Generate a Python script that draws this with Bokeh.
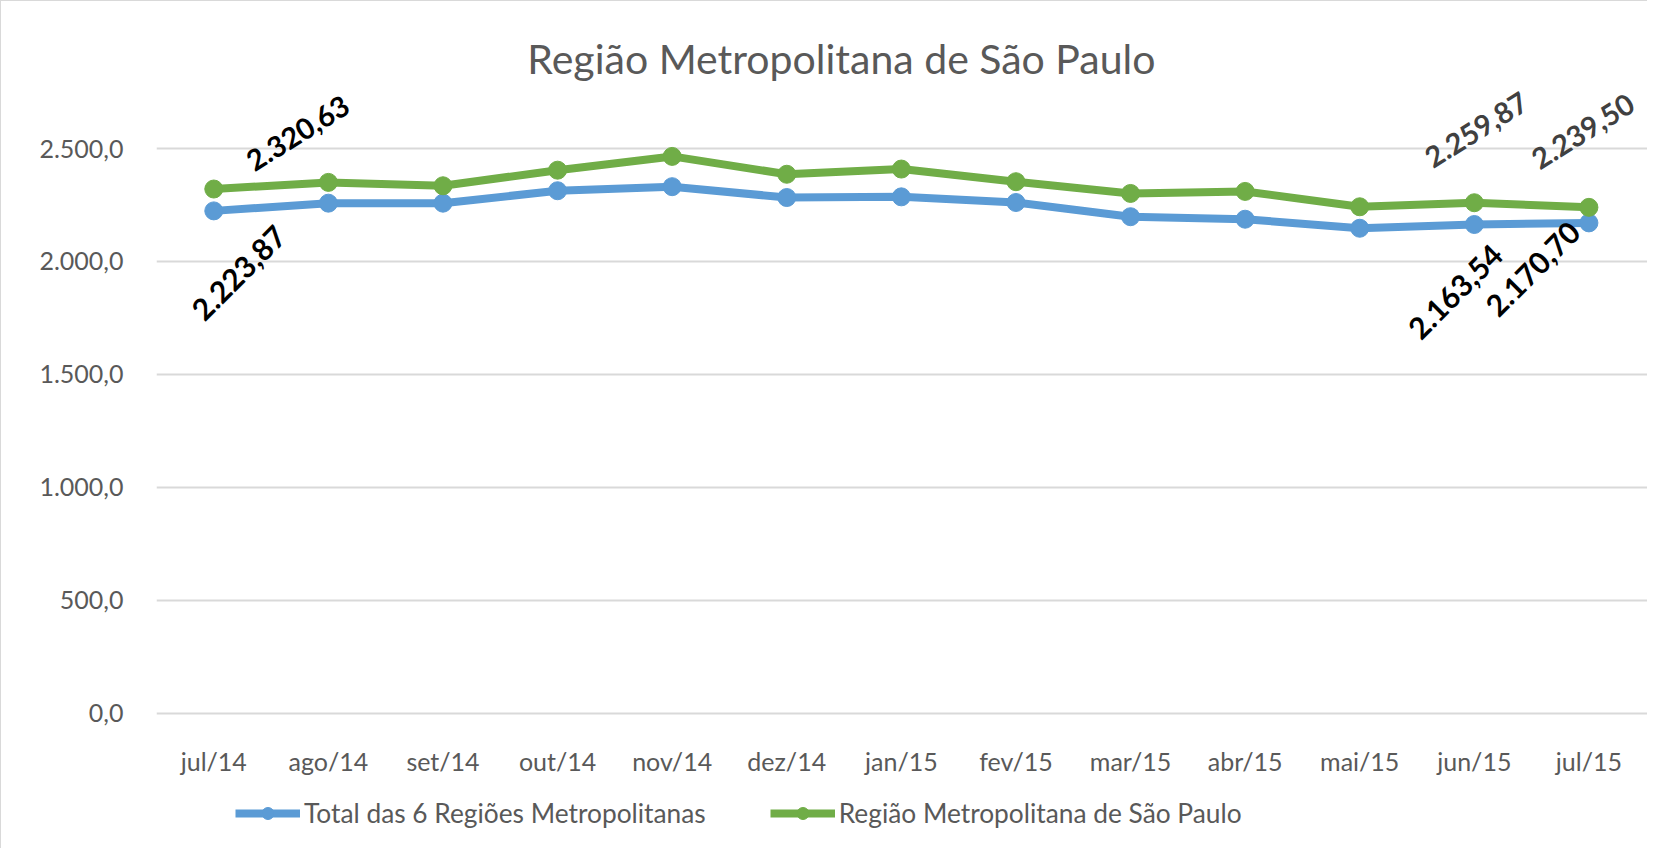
from bokeh.plotting import figure, ColumnDataSource
from bokeh.embed import file_html
from bokeh.resources import INLINE
from bokeh.models import FixedTicker, Label, Legend, LegendItem
from bokeh.core.properties import value
import math

months = ["jul/14", "ago/14", "set/14", "out/14", "nov/14", "dez/14", "jan/15",
          "fev/15", "mar/15", "abr/15", "mai/15", "jun/15", "jul/15"]
total_6rm = [2223.87, 2258, 2258, 2313, 2331, 2283, 2286, 2261, 2198, 2187, 2147, 2163.54, 2170.70]
rm_sp = [2320.63, 2350, 2335, 2404, 2465, 2386, 2409, 2353, 2301, 2310, 2242, 2259.87, 2239.50]
y_ticks = [0, 500, 1000, 1500, 2000, 2500]

# which points carry a data label
label_idx_sp = [0, 11, 12]
label_idx_tot = [0, 11, 12]

BLUE = "#5B9BD5"
GREEN = "#70AD47"
GREY = "#595959"
FONT = "Lato"


def fmt_br(v, nd=2):
    s = f"{v:,.{nd}f}"
    return s.replace(",", "#").replace(".", ",").replace("#", ".")


x = list(range(len(months)))

# frame spans the full height (glyphs are clipped to it); x axis sits at y=0
p = figure(width=1647, height=848, output_backend="svg", toolbar_location=None,
           x_range=(-0.5, 12.52), y_range=(-603.4, 3150.8),
           min_border_left=155, min_border_right=0, min_border_top=0, min_border_bottom=0)
p.outline_line_color = None
p.background_fill_color = "white"
p.border_fill_color = "white"
p.styles = {"border-left": "1px solid #d9d9d9", "border-top": "1px solid #d9d9d9"}

p.xaxis.fixed_location = 0
p.xaxis.ticker = FixedTicker(ticks=x)
p.xaxis.major_label_overrides = {i: m for i, m in enumerate(months)}
p.yaxis.ticker = FixedTicker(ticks=y_ticks)
p.yaxis.major_label_overrides = {t: fmt_br(t, 1) for t in y_ticks}
for ax in (p.xaxis, p.yaxis):
    ax.axis_line_color = None
    ax.major_tick_line_color = None
    ax.minor_tick_line_color = None
    ax.major_label_text_font = FONT
    ax.major_label_text_font_size = "25px"
    ax.major_label_text_color = GREY
p.xaxis.major_label_standoff = 27
p.yaxis.major_label_standoff = 27
p.xgrid.grid_line_color = None
p.ygrid.ticker = FixedTicker(ticks=y_ticks)
p.ygrid.grid_line_color = "#d9d9d9"
p.ygrid.grid_line_width = 2

src_tot = ColumnDataSource(data={"x": x, "y": total_6rm})
src_sp = ColumnDataSource(data={"x": x, "y": rm_sp})

l1 = p.line("x", "y", source=src_tot, line_color=BLUE, line_width=8)
c1 = p.scatter("x", "y", source=src_tot, marker="circle", size=18, fill_color=BLUE, line_color=BLUE)
l2 = p.line("x", "y", source=src_sp, line_color=GREEN, line_width=8)
c2 = p.scatter("x", "y", source=src_sp, marker="circle", size=18, fill_color=GREEN, line_color=GREEN)

# data labels (Excel-style, rotated and moved by hand)
sp_off = [(84, -56), (2, -73), (-6, -76)]
tot_off = [(25, 62), (-19, 67), (-56, 46)]
sp_lab = ColumnDataSource(data={
    "x": [x[i] for i in label_idx_sp], "y": [rm_sp[i] for i in label_idx_sp],
    "t": [fmt_br(rm_sp[i]) for i in label_idx_sp],
    "dx": [o[0] for o in sp_off], "dy": [o[1] for o in sp_off],
    "c": ["#000000", "#404040", "#404040"]})
tot_lab = ColumnDataSource(data={
    "x": [x[i] for i in label_idx_tot], "y": [total_6rm[i] for i in label_idx_tot],
    "t": [fmt_br(total_6rm[i]) for i in label_idx_tot],
    "dx": [o[0] for o in tot_off], "dy": [o[1] for o in tot_off]})
p.text("x", "y", text="t", source=sp_lab, x_offset="dx", y_offset="dy", angle=math.radians(32),
       text_align="center", text_baseline="middle", text_font=value(FONT), text_font_style="bold",
       text_font_size="29px", text_color="c")
p.text("x", "y", text="t", source=tot_lab, x_offset="dx", y_offset="dy", angle=math.radians(45),
       text_align="center", text_baseline="middle", text_font=value(FONT), text_font_style="bold",
       text_font_size="30px", text_color="#000000")

title = Label(x=5.477, y=2898, text="Região Metropolitana de São Paulo", text_align="center",
              text_baseline="alphabetic", text_font=FONT, text_font_size="41px", text_color=GREY)
p.add_layout(title)

legend = Legend(items=[LegendItem(label="Total das 6 Regiões Metropolitanas", renderers=[l1, c1]),
                       LegendItem(label="Região Metropolitana de São Paulo", renderers=[l2, c2])],
                orientation="horizontal", location=(79, 20), margin=0, padding=0, spacing=64,
                glyph_width=65, glyph_height=30, label_height=30, label_standoff=4,
                label_text_font=FONT, label_text_font_size="26.3px", label_text_color=GREY,
                border_line_color=None, background_fill_alpha=0)
p.add_layout(legend)

open("out.html", "w").write(file_html(p, INLINE))
